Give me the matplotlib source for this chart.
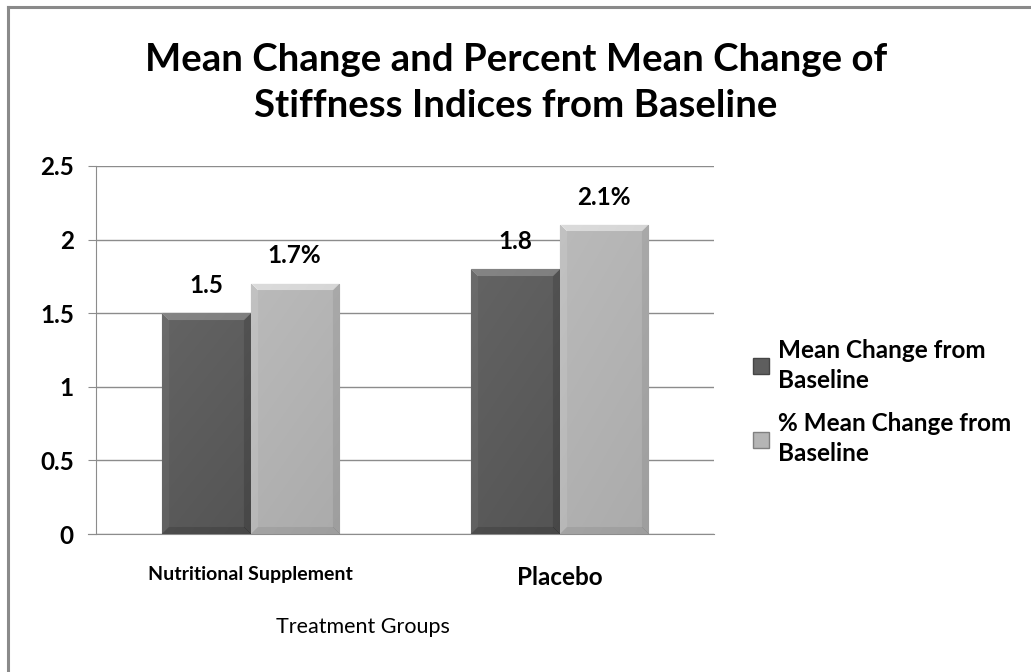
import numpy as np
import matplotlib as mpl
import matplotlib.pyplot as plt
from matplotlib.patches import Patch
from matplotlib.lines import Line2D

mpl.rcParams['font.family'] = ['Lato', 'DejaVu Sans']

groups = ['Nutritional Supplement', 'Placebo']
mean_change = [1.5, 1.8]
pct_change = [1.7, 2.1]
series_names = ['Mean Change from\nBaseline', '% Mean Change from\nBaseline']
mean_labels = ['1.5', '1.8']
pct_labels = ['1.7%', '2.1%']
yticks = [0, 0.5, 1, 1.5, 2, 2.5]
ytick_labels = ['0', '0.5', '1', '1.5', '2', '2.5']

dark = np.array([0.37, 0.37, 0.37])
light = np.array([0.71, 0.71, 0.71])

fig = plt.figure(figsize=(10.31, 6.72), dpi=100)
ax = fig.add_axes([96 / 1031, 138 / 672, 618 / 1031, 368 / 672])

# outer chart frame, only left and top edges fall inside the image
fx, fy = 8 / 1031, 1 - 7 / 672
fig.add_artist(Line2D([fx, fx], [0, fy], transform=fig.transFigure, color='#8a8a8a', lw=2.2))
fig.add_artist(Line2D([fx, 1], [fy, fy], transform=fig.transFigure, color='#8a8a8a', lw=2.2))

x = np.arange(len(groups))
w = 0.285
b1 = ax.bar(x - w / 2, mean_change, w, color=dark, edgecolor='#454545', lw=0.8, zorder=3)
b2 = ax.bar(x + w / 2, pct_change, w, color=light, edgecolor='#808080', lw=0.8, zorder=3)


def bevel(patch, base):
    # paint a bevelled face over a bar, clipped to the bar outline
    x0, y0 = patch.get_x(), patch.get_y()
    bw, bh = patch.get_width(), patch.get_height()
    nx = 88
    ny = max(int(bh / 2.5 * 368), 2)
    jj, ii = np.meshgrid(np.arange(nx), np.arange(ny))
    dt = ii
    db = ny - 1 - ii
    dl = jj
    dr = nx - 1 - jj
    shade = np.zeros((ny, nx))
    bz = 7
    shade += -0.04 * (ii / ny)
    shade += 0.02 * (1 - jj / nx)
    m = np.minimum.reduce([dt, db, dl, dr])
    shade[(dl == m) & (dl < bz)] += 0.03
    shade[(dr == m) & (dr < bz)] -= 0.05
    shade[(db == m) & (db < bz)] -= 0.05
    shade[(dt == m) & (dt < bz)] += 0.13
    img = np.clip(base[None, None, :] + shade[:, :, None], 0, 1)
    im = ax.imshow(img, extent=(x0, x0 + bw, y0, y0 + bh), origin='upper',
                   aspect='auto', zorder=3.5, interpolation='bilinear')
    im.set_clip_path(patch)


for p in b1:
    bevel(p, dark)
for p in b2:
    bevel(p, light)
ax.set_xlim(-0.5, 1.5)
ax.set_ylim(0, 2.5)

# value labels above the bars
for bars, labels in [(b1, mean_labels), (b2, pct_labels)]:
    for p, lab in zip(bars, labels):
        ax.annotate(lab, (p.get_x() + p.get_width() / 2, p.get_height()),
                    xytext=(0, 20), textcoords='offset points', ha='center',
                    va='center', fontsize=17.5, fontweight='bold', zorder=5)

ax.set_yticks(yticks)
ax.set_yticklabels(ytick_labels, fontsize=17.5, fontweight='bold')
ax.yaxis.grid(True, color='#8c8c8c', lw=1)
ax.set_axisbelow(True)
ax.tick_params(axis='y', length=6, color='#8c8c8c', pad=10)
ax.tick_params(axis='x', length=0, pad=23)
ax.set_xticks(x)
ax.set_xticklabels(groups)
tl = ax.get_xticklabels()
tl[0].set_fontsize(14)
tl[0].set_fontweight('bold')
tl[1].set_fontsize(17.5)
tl[1].set_fontweight('bold')

for s in ['top', 'right']:
    ax.spines[s].set_visible(False)
ax.spines['left'].set_color('#8c8c8c')
ax.spines['bottom'].set_color('#8c8c8c')
ax.spines['bottom'].set_bounds(-0.5 - 8 / 309, 1.5)

fig.text(516 / 1031, 1 - 83 / 672, 'Mean Change and Percent Mean Change of\nStiffness Indices from Baseline',
         ha='center', va='center', fontsize=27.6, fontweight='bold', linespacing=1.45)
fig.text(363 / 1031, 1 - 627 / 672, 'Treatment Groups', ha='center', va='center', fontsize=15.5)

handles = [Patch(facecolor=dark, edgecolor='#454545'), Patch(facecolor=light, edgecolor='#808080')]
leg = fig.legend(handles, series_names, loc='center left', bbox_to_anchor=(731 / 1031, 1 - 402 / 672),
                 frameon=False, prop={'weight': 'bold', 'size': 17.5},
                 handlelength=0.65, handleheight=0.65, handletextpad=0.4, labelspacing=0.85)
for t in leg.get_texts():
    t.set_linespacing(1.35)

fig.savefig('out.png', dpi=100, facecolor='white')
